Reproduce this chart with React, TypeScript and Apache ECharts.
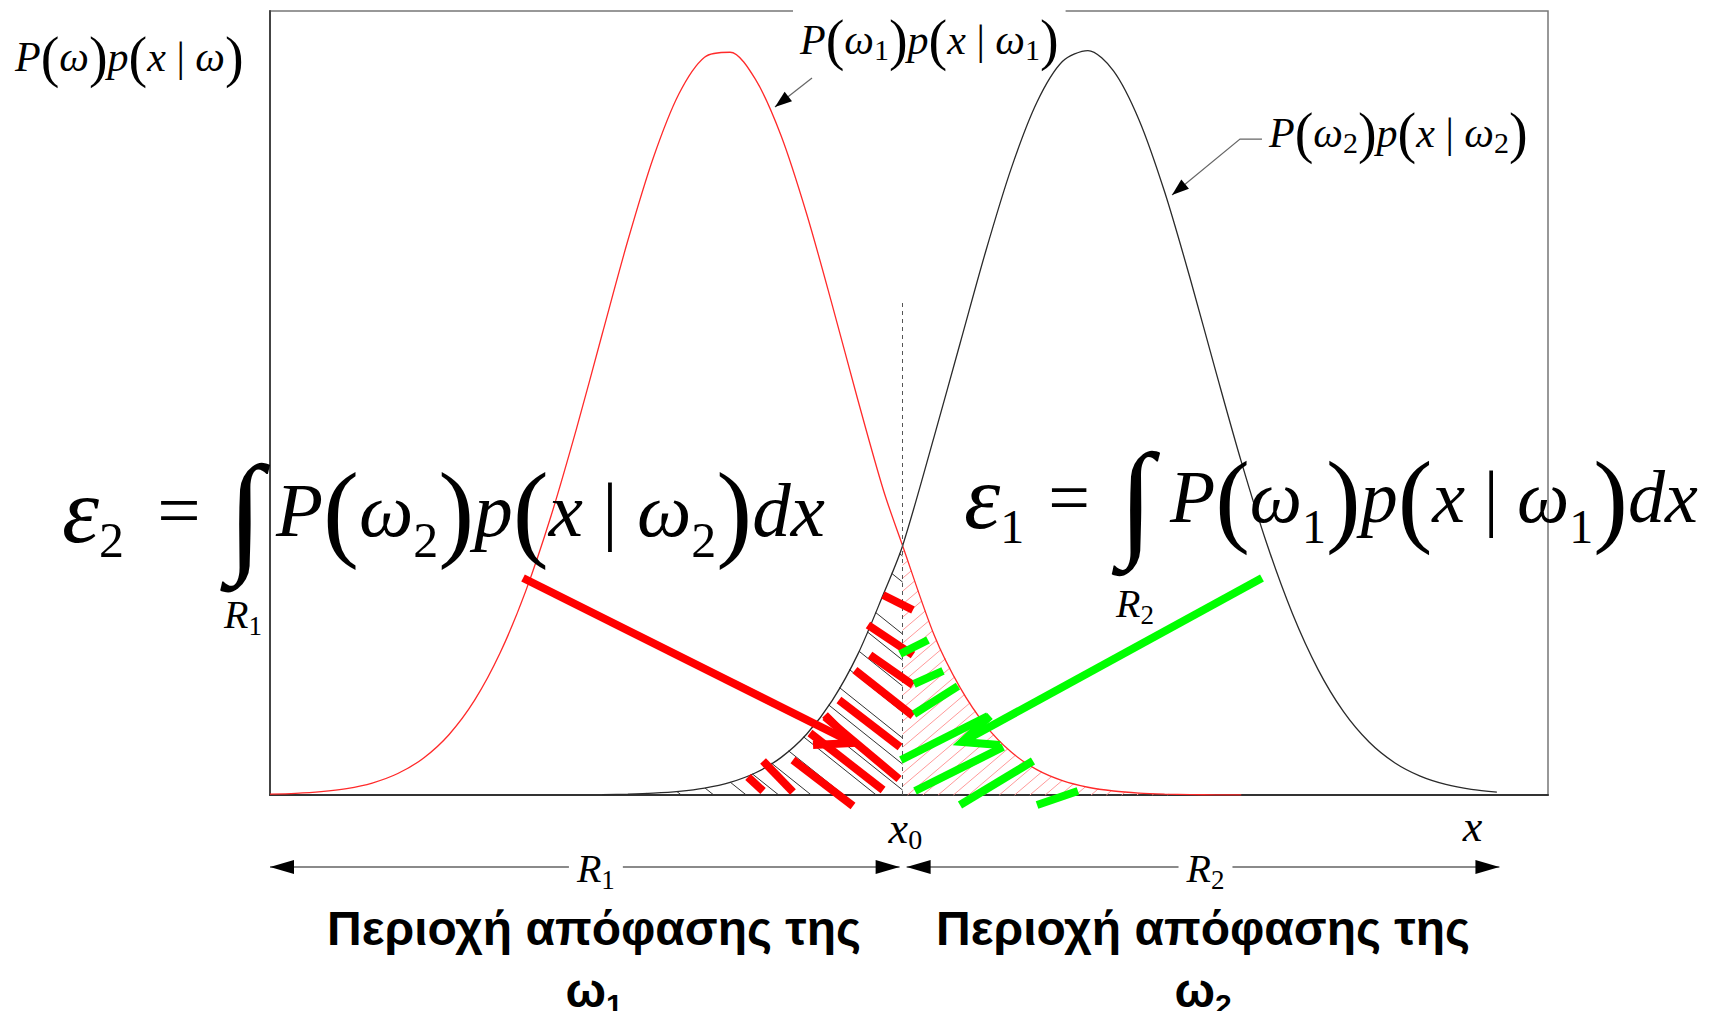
import React, { useEffect, useRef } from "react";
import * as echarts from "echarts";

// ---------- curve data ----------
const RED_X = [0, 2, 4, 6, 8, 10, 12, 14, 16, 18, 20, 22, 24, 26, 28, 30, 32, 34, 36, 38, 40, 42, 44, 46, 48, 49.5, 52, 54, 56, 58, 60, 62, 64, 66, 68, 70, 72, 74, 76];
const RED_Y = [0.1, 0.2, 0.42, 0.82, 1.53, 2.74, 4.69, 7.69, 12.06, 18.1, 25.97, 35.65, 46.83, 58.83, 70.72, 81.31, 89.44, 94.11, 94.74, 91.24, 84.06, 74.08, 62.46, 50.38, 38.87, 31.8, 20.27, 13.69, 8.85, 5.47, 3.23, 1.83, 0.99, 0.51, 0.25, 0.12, 0.05, 0.02, 0.01];
const BLACK_X = [26, 28, 30, 32, 34, 36, 38, 40, 42, 44, 46, 48, 49.5, 52, 54, 56, 58, 60, 62, 64, 66, 68, 70, 72, 74, 76, 78, 80, 82, 84, 86, 88, 90, 92, 94, 96];
const BLACK_Y = [0.05, 0.11, 0.23, 0.46, 0.88, 1.61, 2.84, 4.8, 7.78, 12.08, 17.97, 25.64, 31.8, 45.91, 57.62, 69.33, 79.93, 88.33, 93.55, 94.95, 92.37, 86.11, 76.94, 65.88, 54.06, 42.52, 32.04, 23.15, 16.03, 10.63, 6.76, 4.12, 2.41, 1.35, 0.72, 0.37];

const X0 = 49.5; // decision threshold
const X0_DASH_TOP = 62.9;
const R2_END = 96.2;

// hand-drawn annotation strokes (data units): [x1, y1, x2, y2]
const RED_MARKS = [
  [47.97, 25.51, 50.31, 23.6],
  [46.79, 21.68, 50.31, 17.86],
  [46.95, 17.86, 50.31, 14.03],
  [45.77, 15.94, 50.31, 10.08],
  [44.52, 12.12, 49.3, 6.12],
  [43.43, 9.95, 49.22, 2.04],
  [42.25, 7.91, 47.97, 0.64],
  [40.92, 4.46, 45.62, -1.4],
  [38.58, 4.34, 40.92, 0.38],
  [37.4, 2.3, 38.58, 0.51],
];
const GREEN_MARKS = [
  [49.3, 17.98, 51.49, 19.77],
  [50.39, 14.16, 52.66, 15.82],
  [50.39, 10.33, 53.83, 13.9],
  [49.37, 4.46, 56.18, 10.08],
  [50.47, 0.51, 57.36, 6.12],
  [53.99, -1.28, 59.7, 4.34],
  [60.02, -1.28, 63.22, 0.51],
];
const RED_ARROW = [[19.8, 27.68], [45.62, 6.63]];
const RED_HEAD = [[43.43, 10.2], [45.62, 6.63], [42.49, 6.38]];
const GREEN_ARROW = [[77.62, 27.68], [54.15, 6.76]];
const GREEN_HEAD = [[56.34, 10.08], [54.15, 6.76], [57.12, 6.38]];
const POINTER1 = [[42.41, 91.45], [39.51, 87.75]];
const POINTER2 = [[77.62, 83.67], [75.9, 83.67], [70.58, 76.53]];

const SERIF = "'Liberation Serif', 'Times New Roman', serif";
const SANS = "'Liberation Sans', Arial, sans-serif";

function mathRich(f: number, pf: number, sf: number, dy: number, ef = f) {
  return {
    i: { fontFamily: SERIF, fontStyle: "italic", fontSize: f, fill: "#000" },
    e: { fontFamily: SERIF, fontStyle: "italic", fontSize: ef, fill: "#000" },
    n: { fontFamily: SERIF, fontSize: f, fill: "#000" },
    p: { fontFamily: SERIF, fontSize: pf, fill: "#000" },
    s: { fontFamily: SERIF, fontSize: sf, fill: "#000", padding: [2 * dy, 0, 0, 0] },
  };
}

export default function App() {
  const ref = useRef<HTMLDivElement>(null);
  useEffect(() => {
    document.body.style.margin = "0";
    const chart = echarts.init(ref.current!, null, { renderer: "svg", width: 1721, height: 1011 });
    chart.setOption({
      animation: false,
      backgroundColor: "#fff",
      grid: { left: 270, top: 11, width: 1278, height: 784, show: true, borderColor: "#777", borderWidth: 1.5 },
      xAxis: {
        type: "value", min: 0, max: 100,
        axisLine: { show: true, onZero: false, lineStyle: { color: "#333", width: 2 } },
        axisTick: { show: false }, axisLabel: { show: false }, splitLine: { show: false },
      },
      yAxis: {
        type: "value", min: 0, max: 100,
        axisLine: { show: true, onZero: false, lineStyle: { color: "#444", width: 2 } },
        axisTick: { show: false }, axisLabel: { show: false }, splitLine: { show: false },
      },
      series: [
        {
          type: "line", name: "P(ω1)p(x|ω1)", data: RED_X.map((x, i) => [x, RED_Y[i]]),
          smooth: 0.3, symbol: "none", z: 3,
          lineStyle: { color: "#ff2a2a", width: 1.3 },
        },
        {
          type: "line", name: "P(ω2)p(x|ω2)", data: BLACK_X.map((x, i) => [x, BLACK_Y[i]]),
          smooth: 0.3, symbol: "none", z: 3,
          lineStyle: { color: "#2a2a2a", width: 1.3 },
          markLine: {
            silent: true, symbol: ["none", "none"], label: { show: false },
            lineStyle: { type: [4, 4], color: "#555", width: 1 },
            data: [[{ coord: [X0, 0] }, { coord: [X0, X0_DASH_TOP] }]],
          },
        },
      ],
    });

    const P = (x: number, y: number) => chart.convertToPixel({ gridIndex: 0 }, [x, y]) as number[];
    const els: any[] = [];
    const seg = (a: number[], b: number[], stroke: string, w: number, z: number) => ({
      type: "line", silent: true, z,
      shape: { x1: a[0], y1: a[1], x2: b[0], y2: b[1] },
      style: { stroke, lineWidth: w, lineCap: "butt" },
    });
    const head = (tip: number[], from: number[], L: number, W: number, fill: string, z: number) => {
      const dx = tip[0] - from[0], dy = tip[1] - from[1];
      const len = Math.hypot(dx, dy);
      const ux = dx / len, uy = dy / len;
      const bx = tip[0] - ux * L, by = tip[1] - uy * L;
      return {
        type: "polygon", silent: true, z,
        shape: { points: [[tip[0], tip[1]], [bx - uy * W, by + ux * W], [bx + uy * W, by - ux * W]] },
        style: { fill },
      };
    };
    const yAt = (pts: number[][], px: number) => {
      if (px <= pts[0][0]) return pts[0][1];
      for (let i = 1; i < pts.length; i++) {
        if (px <= pts[i][0]) {
          const t = (px - pts[i - 1][0]) / (pts[i][0] - pts[i - 1][0]);
          return pts[i - 1][1] + t * (pts[i][1] - pts[i - 1][1]);
        }
      }
      return pts[pts.length - 1][1];
    };
    const bisect = (f: (v: number) => number, a: number, b: number) => {
      let fa = f(a);
      for (let i = 0; i < 40; i++) {
        const m = (a + b) / 2;
        const fm = f(m);
        if (fm > 0 === fa > 0) { a = m; fa = fm; } else b = m;
      }
      return (a + b) / 2;
    };

    const base = P(0, 0)[1];
    const x0px = P(X0, 0)[0];

    // hatch under black curve, left of x0 ("\" lines)
    const bPts = BLACK_X.map((x, i) => P(x, BLACK_Y[i]));
    {
      const s = 0.8, step = 26;
      const pxStart = bPts[0][0];
      const kMin = yAt(bPts, x0px) - s * x0px;
      const kMax = base - s * pxStart;
      for (let k = kMin + step * 0.4; k < kMax; k += step) {
        const g = (px: number) => s * px + k - yAt(bPts, px);
        if (g(x0px) < 0) continue;
        const pa = g(pxStart) >= 0 ? pxStart : bisect(g, pxStart, x0px);
        const pb = Math.min(x0px, (base - k) / s);
        if (pb - pa < 1) continue;
        els.push(seg([pa, s * pa + k], [pb, s * pb + k], "#333", 1, 1));
      }
    }
    // hatch under red curve, right of x0 ("/" lines)
    const rPts = RED_X.map((x, i) => P(x, RED_Y[i]));
    {
      const s = 0.85, step = 13;
      const pxEnd = rPts[rPts.length - 1][0];
      const kMin = yAt(rPts, x0px) + s * x0px;
      const kMax = base + s * pxEnd;
      for (let k = kMin + step * 0.5; k < kMax; k += step) {
        const g = (px: number) => -s * px + k - yAt(rPts, px);
        const pa = Math.max(x0px, (k - base) / s);
        if (g(pa) < 0) continue;
        const pb = g(pxEnd) >= 0 ? pxEnd : bisect(g, pa, pxEnd);
        if (pb - pa < 1) continue;
        els.push(seg([pa, -s * pa + k], [pb, -s * pb + k], "#ff9a9a", 1, 1));
      }
    }

    // thick hand-drawn strokes
    RED_MARKS.forEach((m) => els.push(seg(P(m[0], m[1]), P(m[2], m[3]), "#ff0000", 8, 10)));
    GREEN_MARKS.forEach((m) => els.push(seg(P(m[0], m[1]), P(m[2], m[3]), "#00ff00", 8, 10)));
    els.push(seg(P(RED_ARROW[0][0], RED_ARROW[0][1]), P(RED_ARROW[1][0], RED_ARROW[1][1]), "#ff0000", 8, 11));
    els.push({ type: "polyline", silent: true, z: 11, shape: { points: RED_HEAD.map((p) => P(p[0], p[1])) }, style: { stroke: "#ff0000", lineWidth: 8, fill: null, lineJoin: "miter" } });
    els.push(seg(P(GREEN_ARROW[0][0], GREEN_ARROW[0][1]), P(GREEN_ARROW[1][0], GREEN_ARROW[1][1]), "#00ff00", 8, 11));
    els.push({ type: "polyline", silent: true, z: 11, shape: { points: GREEN_HEAD.map((p) => P(p[0], p[1])) }, style: { stroke: "#00ff00", lineWidth: 8, fill: null, lineJoin: "miter" } });

    // pointer arrows for curve labels
    {
      const a = P(POINTER1[0][0], POINTER1[0][1]);
      const b = P(POINTER1[1][0], POINTER1[1][1]);
      els.push(seg(a, b, "#666", 1.2, 5));
      els.push(head(b, a, 17, 6, "#000", 5));
      const pts = POINTER2.map((p) => P(p[0], p[1]));
      els.push({ type: "polyline", silent: true, z: 5, shape: { points: pts }, style: { stroke: "#666", lineWidth: 1.2, fill: null } });
      els.push(head(pts[2], pts[1], 17, 6, "#000", 5));
    }

    // region arrows R1 / R2
    {
      const yR = 867;
      const l1 = [P(0, 0)[0], yR], r1 = [x0px - 3, yR];
      const l2 = [x0px + 4, yR], r2 = [P(R2_END, 0)[0], yR];
      els.push(seg(l1, r1, "#8a8a8a", 2, 4));
      els.push(seg(l2, r2, "#8a8a8a", 2, 4));
      els.push(head(l1, r1, 24, 7, "#000", 5));
      els.push(head(r1, l1, 24, 7, "#000", 5));
      els.push(head(l2, r2, 24, 7, "#000", 5));
      els.push(head(r2, l2, 24, 7, "#000", 5));
    }

    const text = (x: number, y: number, t: string, rich: any, align: string, z = 6, extra: any = {}) => ({
      type: "text", silent: true, z, x, y,
      style: {
        text: t, rich, fontFamily: SERIF, fontSize: 40, fill: "#000",
        align, verticalAlign: "middle", textAlign: align, textVerticalAlign: "middle", ...extra,
      },
    });
    const small = mathRich(42, 56, 30, 9);
    const bigL = mathRich(77, 108, 50, 30, 94);
    const bigR = mathRich(74, 104, 48, 29, 92);
    const rlab = mathRich(40, 40, 27, 12);

    // y-axis label
    els.push(text(15, 57, "{i|P}{p|(}{i|ω}{p|)}{i|p}{p|(}{i|x}{n| | }{i|ω}{p|)}", small, "left"));
    // curve labels
    els.push(text(793, 40, "{i|P}{p|(}{i|ω}{s|1}{p|)}{i|p}{p|(}{i|x}{n| | }{i|ω}{s|1}{p|)}", small, "left", 1, { backgroundColor: "#fff", padding: [4, 7, 4, 7] }));
    els.push(text(1269, 133, "{i|P}{p|(}{i|ω}{s|2}{p|)}{i|p}{p|(}{i|x}{n| | }{i|ω}{s|2}{p|)}", small, "left"));

    // error integrals
    const yL = 510, yRt = 497;
    els.push(text(62, yL, "{e|ε}{s|2}", bigL, "left"));
    els.push(text(179, yL, "{n|=}", bigL, "center"));
    els.push(text(245, 512, "∫", null, "center", 6, { fontSize: 132, fontFamily: SERIF }));
    els.push(text(243, 614, "{i|R}{s|1}", rlab, "center"));
    els.push(text(276, yL, "{i|P}{p|(}{i|ω}{s|2}{p|)}{i|p}{p|(}{i|x}{n| | }{i|ω}{s|2}{p|)}{i|dx}", bigL, "left"));

    els.push(text(964, yRt, "{e|ε}{s|1}", bigR, "left"));
    els.push(text(1069, yRt, "{n|=}", bigR, "center"));
    els.push(text(1136, 499, "∫", null, "center", 6, { fontSize: 128, fontFamily: SERIF }));
    els.push(text(1135, 603, "{i|R}{s|2}", rlab, "center"));
    els.push(text(1170, yRt, "{i|P}{p|(}{i|ω}{s|1}{p|)}{i|p}{p|(}{i|x}{n| | }{i|ω}{s|1}{p|)}{i|dx}", bigR, "left"));

    // axis annotations
    els.push(text(x0px - 14, 828, "{i|x}{s|0}", mathRich(44, 44, 28, 11), "left"));
    els.push(text(P(94.1, 0)[0], 826, "{i|x}", mathRich(44, 44, 26, 10), "center"));
    els.push(text(P(25.5, 0)[0], 868, "{i|R}{s|1}", rlab, "center", 6, { backgroundColor: "#fff", padding: [0, 8, 0, 8] }));
    els.push(text(P(73.2, 0)[0], 868, "{i|R}{s|2}", rlab, "center", 6, { backgroundColor: "#fff", padding: [0, 8, 0, 8] }));

    // decision region captions
    const boldRich = {
      b: { fontFamily: SANS, fontWeight: "bold", fontSize: 48, fill: "#000" },
      bs: { fontFamily: SANS, fontWeight: "bold", fontSize: 30, fill: "#000", padding: [28, 0, 0, 0] },
    };
    els.push(text(594, 928, "{b|Περιοχή απόφασης της}", boldRich, "center"));
    els.push(text(594, 990, "{b|ω}{bs|1}", boldRich, "center"));
    els.push(text(1203, 928, "{b|Περιοχή απόφασης της}", boldRich, "center"));
    els.push(text(1203, 990, "{b|ω}{bs|2}", boldRich, "center"));

    chart.setOption({ graphic: els });
    return () => chart.dispose();
  }, []);
  return <div ref={ref} style={{ position: "absolute", left: 0, top: 0, width: 1721, height: 1011, background: "#fff" }} />;
}
